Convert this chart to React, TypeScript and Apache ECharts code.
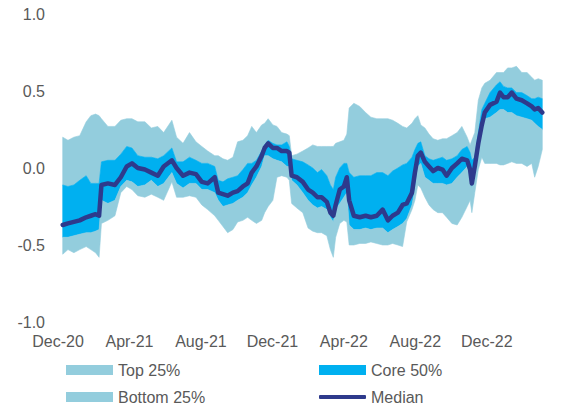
import React, { useEffect, useRef } from "react";
import * as echarts from "echarts";

// Observation dates (x)
const dates = [
  "2020-12-09", "2020-12-18", "2020-12-28", "2021-01-07", "2021-01-18", "2021-01-26", "2021-02-03", "2021-02-09",
  "2021-02-13", "2021-02-24", "2021-03-08", "2021-03-18", "2021-03-28", "2021-04-06", "2021-04-16", "2021-04-28",
  "2021-05-09", "2021-05-20", "2021-05-30", "2021-06-13", "2021-06-21", "2021-07-02", "2021-07-13", "2021-07-24",
  "2021-08-03", "2021-08-13", "2021-08-25", "2021-08-31", "2021-09-08", "2021-09-16", "2021-09-25", "2021-10-03",
  "2021-10-12", "2021-10-20", "2021-10-27", "2021-11-04", "2021-11-13", "2021-11-18", "2021-11-24", "2021-12-02",
  "2021-12-09", "2021-12-17", "2021-12-26", "2021-12-30", "2022-01-03", "2022-01-12", "2022-01-22", "2022-01-31",
  "2022-02-08", "2022-02-16", "2022-02-23", "2022-03-04", "2022-03-10", "2022-03-15", "2022-03-19", "2022-03-26",
  "2022-04-02", "2022-04-07", "2022-04-11", "2022-04-19", "2022-04-29", "2022-05-09", "2022-05-18", "2022-05-28",
  "2022-06-07", "2022-06-16", "2022-06-24", "2022-07-03", "2022-07-11", "2022-07-18", "2022-07-27", "2022-08-01",
  "2022-08-06", "2022-08-11", "2022-08-18", "2022-08-25", "2022-09-01", "2022-09-09", "2022-09-17", "2022-09-24",
  "2022-10-03", "2022-10-12", "2022-10-20", "2022-10-29", "2022-11-03", "2022-11-06", "2022-11-11", "2022-11-17",
  "2022-11-23", "2022-11-28", "2022-12-07", "2022-12-18", "2022-12-24", "2022-12-30", "2023-01-06", "2023-01-13",
  "2023-01-21", "2023-01-30", "2023-02-08", "2023-02-16", "2023-02-21", "2023-02-27", "2023-03-06",
];

// Upper edge of the Top 25% band
const topBound = [
  0.20, 0.18, 0.20, 0.21, 0.30, 0.34, 0.35, 0.34, 0.32, 0.27, 0.27, 0.31, 0.32, 0.32, 0.30, 0.30,
  0.26, 0.27, 0.23, 0.31, 0.20, 0.16, 0.23, 0.17, 0.14, 0.11, 0.08, 0.08, 0.06, 0.05, 0.07, 0.17,
  0.18, 0.21, 0.27, 0.23, 0.28, 0.29, 0.32, 0.28, 0.27, 0.23, 0.22, 0.21, 0.08, 0.09, 0.11, 0.13,
  0.15, 0.14, 0.14, 0.14, 0.14, 0.14, 0.16, 0.17, 0.18, 0.22, 0.39, 0.42, 0.40, 0.36, 0.33, 0.32,
  0.32, 0.32, 0.31, 0.29, 0.27, 0.26, 0.29, 0.32, 0.34, 0.28, 0.26, 0.22, 0.19, 0.18, 0.19, 0.19,
  0.21, 0.23, 0.27, 0.20, 0.15, 0.18, 0.23, 0.44, 0.52, 0.55, 0.57, 0.62, 0.62, 0.62, 0.65, 0.65,
  0.66, 0.62, 0.62, 0.59, 0.57, 0.58, 0.57,
];

// Upper edge of the Core 50% band
const coreHigh = [
  -0.11, -0.12, -0.11, -0.08, -0.05, -0.10, -0.10, -0.10, 0.04, 0.05, 0.05, 0.09, 0.14, 0.13, 0.08, 0.07,
  0.07, 0.06, 0.08, 0.13, 0.04, 0.04, 0.07, 0.05, 0.03, 0.03, 0.01, -0.08, -0.09, -0.07, -0.06, -0.05,
  -0.01, 0.03, 0.03, 0.05, 0.11, 0.15, 0.18, 0.16, 0.15, 0.15, 0.17, 0.14, 0.06, 0.05, 0.04, 0.02,
  0.00, -0.03, -0.01, -0.05, -0.11, -0.14, -0.06, 0.00, 0.03, 0.03, -0.03, -0.06, -0.05, -0.05, -0.05, -0.03,
  -0.03, -0.05, -0.02, 0.00, 0.02, 0.03, 0.07, 0.12, 0.16, 0.17, 0.08, 0.06, 0.05, 0.06, 0.07, 0.05,
  0.06, 0.08, 0.12, 0.14, 0.10, 0.05, 0.07, 0.23, 0.38, 0.42, 0.49, 0.54, 0.56, 0.53, 0.52, 0.52,
  0.49, 0.49, 0.47, 0.45, 0.45, 0.46, 0.45,
];

// Median
const median = [
  -0.37, -0.36, -0.35, -0.34, -0.32, -0.31, -0.30, -0.31, -0.11, -0.10, -0.11, -0.06, 0.01, 0.03, 0.00, -0.01,
  -0.03, -0.05, 0.01, 0.05, 0.00, -0.05, -0.03, -0.04, -0.09, -0.10, -0.06, -0.16, -0.17, -0.18, -0.16, -0.15,
  -0.12, -0.10, -0.03, 0.01, 0.08, 0.13, 0.16, 0.13, 0.13, 0.11, 0.11, 0.10, -0.05, -0.06, -0.09, -0.14,
  -0.16, -0.19, -0.19, -0.22, -0.29, -0.31, -0.24, -0.14, -0.12, -0.06, -0.21, -0.31, -0.32, -0.31, -0.32, -0.31,
  -0.27, -0.34, -0.31, -0.29, -0.24, -0.23, -0.16, -0.03, 0.08, 0.10, 0.04, 0.01, -0.02, 0.00, -0.01, -0.05,
  0.00, 0.03, 0.06, 0.05, -0.01, -0.10, 0.01, 0.16, 0.28, 0.36, 0.41, 0.43, 0.49, 0.46, 0.46, 0.49,
  0.45, 0.44, 0.42, 0.40, 0.38, 0.39, 0.36,
];

// Lower edge of the Core 50% band
const coreLow = [
  -0.45, -0.45, -0.44, -0.43, -0.42, -0.42, -0.41, -0.40, -0.21, -0.23, -0.21, -0.12, -0.08, -0.09, -0.12, -0.11,
  -0.08, -0.12, -0.10, -0.03, -0.10, -0.13, -0.10, -0.10, -0.14, -0.14, -0.16, -0.21, -0.25, -0.24, -0.23, -0.21,
  -0.19, -0.16, -0.11, -0.06, 0.01, 0.08, 0.08, 0.06, 0.05, 0.04, 0.01, 0.01, -0.08, -0.11, -0.16, -0.21,
  -0.24, -0.26, -0.25, -0.27, -0.32, -0.35, -0.27, -0.23, -0.19, -0.16, -0.37, -0.40, -0.40, -0.39, -0.40, -0.39,
  -0.39, -0.42, -0.40, -0.38, -0.36, -0.33, -0.24, -0.14, 0.01, 0.03, -0.06, -0.08, -0.10, -0.10, -0.10, -0.11,
  -0.10, -0.06, -0.03, 0.01, -0.08, -0.13, -0.06, 0.12, 0.25, 0.32, 0.33, 0.36, 0.38, 0.38, 0.36, 0.36,
  0.34, 0.33, 0.32, 0.31, 0.29, 0.27, 0.25,
];

// Lower edge of the Bottom 25% band
const bottomBound = [
  -0.56, -0.53, -0.55, -0.53, -0.51, -0.53, -0.55, -0.58, -0.36, -0.34, -0.31, -0.16, -0.12, -0.14, -0.18, -0.19,
  -0.17, -0.19, -0.21, -0.09, -0.19, -0.19, -0.18, -0.19, -0.24, -0.27, -0.31, -0.34, -0.38, -0.42, -0.40, -0.35,
  -0.34, -0.32, -0.34, -0.36, -0.34, -0.29, -0.25, -0.21, -0.06, -0.05, -0.06, -0.08, -0.23, -0.26, -0.29, -0.39,
  -0.41, -0.42, -0.42, -0.44, -0.53, -0.58, -0.45, -0.36, -0.34, -0.35, -0.50, -0.50, -0.49, -0.49, -0.48, -0.49,
  -0.50, -0.50, -0.49, -0.50, -0.51, -0.35, -0.27, -0.21, -0.11, -0.13, -0.19, -0.24, -0.27, -0.29, -0.29, -0.32,
  -0.36, -0.37, -0.32, -0.25, -0.21, -0.29, -0.16, -0.01, 0.07, 0.03, 0.03, 0.03, 0.02, 0.02, 0.03, 0.04,
  0.03, 0.03, 0.01, 0.03, -0.06, 0.01, 0.12,
];

const xTickLabels = ["Dec-20", "Apr-21", "Aug-21", "Dec-21", "Apr-22", "Aug-22", "Dec-22"];

const LIGHT = "#93CDDD";
const CORE = "#00B0F0";
const NAVY = "#2E3A8C";
const TEXT = "#595959";
const FONT = '"Liberation Sans", Arial, Helvetica, sans-serif';

const ORIGIN = Date.UTC(2020, 11, 1);
const MONTH_MS = 30.4375 * 86400000;
const toMonths = (s: string) => {
  const [y, m, d] = s.split("-").map(Number);
  return (Date.UTC(y, m - 1, d) - ORIGIN) / MONTH_MS;
};

export default function App() {
  const ref = useRef<HTMLDivElement>(null);

  useEffect(() => {
    if (!ref.current) return;
    const chart = echarts.init(ref.current, null, { renderer: "svg" });
    const xs = dates.map(toMonths);

    // A band drawn as one polygon between an upper and a lower edge, through the axes' scales.
    const bandSeries = (name: string, upper: number[], lower: number[], color: string) => ({
      type: "custom",
      name,
      coordinateSystem: "cartesian2d",
      silent: true,
      clip: true,
      z: 2,
      itemStyle: { color },
      encode: { x: 0, y: [1, 2] },
      data: xs.map((x, i) => [x, upper[i], lower[i]]),
      renderItem: (params: any, api: any) => {
        if (params.dataIndex !== 0) return null;
        const pts: number[][] = [];
        for (let i = 0; i < xs.length; i++) pts.push(api.coord([xs[i], upper[i]]));
        for (let i = xs.length - 1; i >= 0; i--) pts.push(api.coord([xs[i], lower[i]]));
        return {
          type: "polygon",
          shape: { points: pts },
          style: { fill: color, stroke: color, lineWidth: 0.6 },
        };
      },
    });

    const legendCommon = {
      orient: "horizontal",
      padding: 0,
      itemGap: 0,
      itemWidth: 47,
      itemHeight: 10,
      icon: "rect",
      selectedMode: false,
      textStyle: { color: TEXT, fontSize: 16, fontFamily: FONT, lineHeight: 20 },
    };

    chart.setOption({
      animation: false,
      backgroundColor: "#ffffff",
      textStyle: { fontFamily: FONT },
      grid: { left: 58, right: 18, top: 14, bottom: 88, containLabel: false, outerBoundsMode: "none" },
      xAxis: {
        type: "value",
        min: 0,
        max: 27.2,
        interval: 4,
        axisLine: { show: false },
        axisTick: { show: false },
        splitLine: { show: false },
        axisLabel: {
          color: TEXT,
          fontSize: 16,
          fontFamily: FONT,
          margin: 11,
          showMaxLabel: false,
          formatter: (v: number) => {
            const i = Math.round(v / 4);
            return Math.abs(v - i * 4) < 1e-6 && xTickLabels[i] ? xTickLabels[i] : "";
          },
        },
      },
      yAxis: {
        type: "value",
        min: -1,
        max: 1,
        interval: 0.5,
        axisLine: { show: false },
        axisTick: { show: false },
        splitLine: { show: false },
        axisLabel: {
          color: TEXT,
          fontSize: 16,
          fontFamily: FONT,
          margin: 13,
          formatter: (v: number) => v.toFixed(1),
        },
      },
      legend: [
        { ...legendCommon, left: 66, top: 360, data: [{ name: "Top 25%", itemStyle: { color: LIGHT, borderWidth: 0 } }] },
        { ...legendCommon, left: 319, top: 360, data: [{ name: "Core 50%", itemStyle: { color: CORE, borderWidth: 0 } }] },
        { ...legendCommon, left: 66, top: 387, data: [{ name: "Bottom 25%", itemStyle: { color: LIGHT, borderWidth: 0 } }] },
        {
          ...legendCommon,
          left: 319,
          top: 387,
          itemHeight: 4,
          icon: "roundRect",
          data: [{ name: "Median", itemStyle: { color: NAVY, borderWidth: 0 } }],
        },
      ],
      series: [
        bandSeries("Top 25%", topBound, coreHigh, LIGHT),
        bandSeries("Core 50%", coreHigh, coreLow, CORE),
        bandSeries("Bottom 25%", coreLow, bottomBound, LIGHT),
        {
          type: "line",
          name: "Median",
          data: xs.map((x, i) => [x, median[i]]),
          symbol: "none",
          showSymbol: false,
          silent: true,
          lineStyle: { color: NAVY, width: 4.5, join: "round", cap: "round" },
          itemStyle: { color: NAVY },
          emphasis: { disabled: true },
          z: 5,
        },
      ],
    });

    return () => chart.dispose();
  }, []);

  return (
    <div
      ref={ref}
      style={{ position: "absolute", left: 0, top: 0, width: 562, height: 410, background: "#fff" }}
    />
  );
}
